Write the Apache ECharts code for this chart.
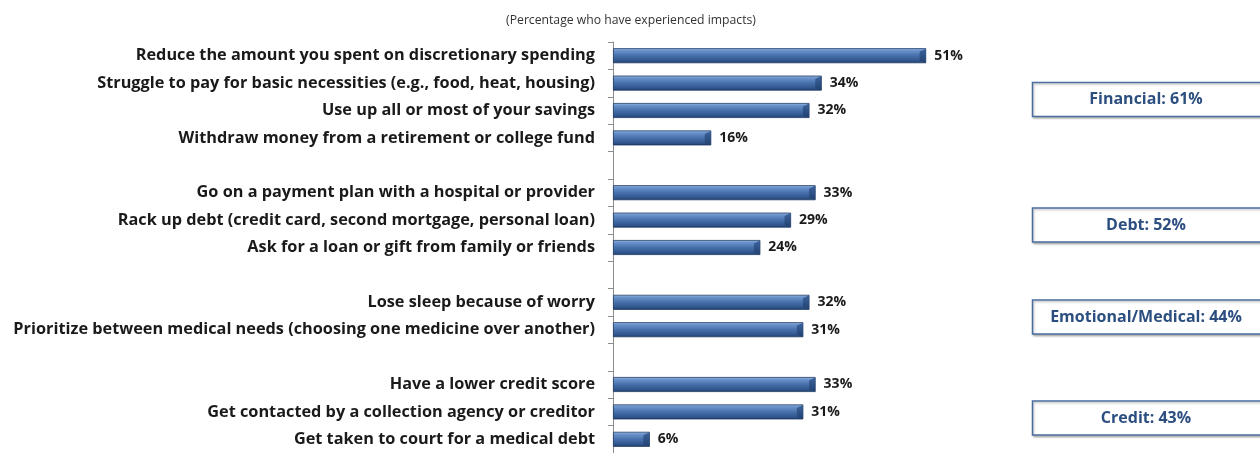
<!DOCTYPE html>
<html>
<head>
<meta charset="utf-8">
<style>
  html, body { margin: 0; padding: 0; background: #fff; }
  #chart { width: 1260px; height: 453px; }
</style>
<script src="https://cdn.jsdelivr.net/npm/echarts@6/dist/echarts.min.js"></script>
</head>
<body>
<div id="chart"></div>
<script>
// Impact items, top to bottom; blank strings are spacers between groups
const categories = [
  'Reduce the amount you spent on discretionary spending',
  'Struggle to pay for basic necessities (e.g., food, heat, housing)',
  'Use up all or most of your savings',
  'Withdraw money from a retirement or college fund',
  '',
  'Go on a payment plan with a hospital or provider',
  'Rack up debt (credit card, second mortgage, personal loan)',
  'Ask for a loan or gift from family or friends',
  ' ',
  'Lose sleep because of worry',
  'Prioritize between medical needs (choosing one medicine over another)',
  '  ',
  'Have a lower credit score',
  'Get contacted by a collection agency or creditor',
  'Get taken to court for a medical debt'
];
// Percentage who experienced each impact (null for spacer rows)
const values = [51, 34, 32, 16, null, 33, 29, 24, null, 32, 31, null, 33, 31, 6];

// Group totals shown in the boxes on the right
const groupNames = ['Financial', 'Debt', 'Emotional/Medical', 'Credit'];
const groupTotals = [61, 52, 44, 43];

const FONT = '"Open Sans", "Noto Sans", sans-serif';
const chart = echarts.init(document.getElementById('chart'));

const gridTop = 42, gridHeight = 414;
const BAR_H = 15;

const barGradient = new echarts.graphic.LinearGradient(0, 0, 0, 1, [
  { offset: 0, color: '#a3bfe4' },
  { offset: 0.15, color: '#6c94cc' },
  { offset: 0.5, color: '#4770ab' },
  { offset: 0.85, color: '#2f548b' },
  { offset: 1, color: '#1e3a68' }
]);
const capGradient = new echarts.graphic.LinearGradient(0, 0, 0, 1, [
  { offset: 0, color: '#335a94' },
  { offset: 1, color: '#22406e' }
]);

// Vertical centres of the group boxes
const boxCentres = [99.5, 225, 317, 418];
const boxes = groupNames.map((name, i) => {
  const cy = boxCentres[i];
  return {
    type: 'group',
    children: [
      {
        type: 'rect',
        shape: { x: 1032.5, y: cy - 17, width: 240, height: 34 },
        style: {
          fill: '#fff', stroke: '#4a6c9f', lineWidth: 1.5,
          shadowColor: 'rgba(0,0,0,0.25)', shadowBlur: 2, shadowOffsetX: 1, shadowOffsetY: 1.5
        }
      },
      {
        type: 'text',
        x: 1146, y: cy,
        style: {
          text: name + ': ' + groupTotals[i] + '%',
          fill: '#2c4f80',
          font: 'bold 16px ' + FONT,
          align: 'center', verticalAlign: 'middle'
        }
      }
    ]
  };
});

// Bevelled ends of the bars
const capData = [];
values.forEach((v, i) => { if (v != null) capData.push([v, i]); });

chart.setOption({
  animation: false,
  title: {
    text: '(Percentage who have experienced impacts)',
    left: 626, top: 10, textAlign: 'center',
    textStyle: { fontSize: 12.2, fontWeight: 'normal', color: '#333', fontFamily: FONT }
  },
  grid: { left: 613, top: gridTop, width: 614, height: gridHeight, containLabel: false },
  xAxis: { type: 'value', min: 0, max: 100, show: false },
  yAxis: {
    type: 'category',
    data: categories,
    inverse: true,
    axisLine: { show: true, lineStyle: { color: '#8c8c8c', width: 1 } },
    axisTick: { show: true, length: 5, lineStyle: { color: '#8c8c8c' } },
    axisLabel: {
      margin: 18,
      color: '#1a1a1a',
      fontSize: 16.3,
      fontWeight: 'bold',
      fontFamily: FONT,
      interval: 0
    },
    splitLine: { show: false }
  },
  series: [{
    type: 'bar',
    data: values,
    barWidth: BAR_H,
    itemStyle: { color: barGradient, borderColor: '#1f3b66', borderWidth: 0.8 },
    label: {
      show: true,
      position: 'right',
      distance: 8,
      formatter: p => p.value + '%',
      color: '#1a1a1a',
      fontSize: 14,
      fontWeight: 'bold',
      fontFamily: FONT
    }
  }, {
    type: 'custom',
    data: capData,
    encode: { x: 0, y: 1 },
    silent: true,
    z: 3,
    renderItem: (params, api) => {
      const end = api.coord([api.value(0), api.value(1)]);
      const x1 = end[0] - 0.5, cy = end[1], h = BAR_H / 2 - 0.5, w = 6;
      return {
        type: 'polygon',
        shape: { points: [[x1 - w, cy - h + 3], [x1, cy - h], [x1, cy + h], [x1 - w, cy + h - 2]] },
        style: { fill: capGradient, opacity: 0.85 }
      };
    }
  }],
  graphic: boxes
});
</script>
</body>
</html>
